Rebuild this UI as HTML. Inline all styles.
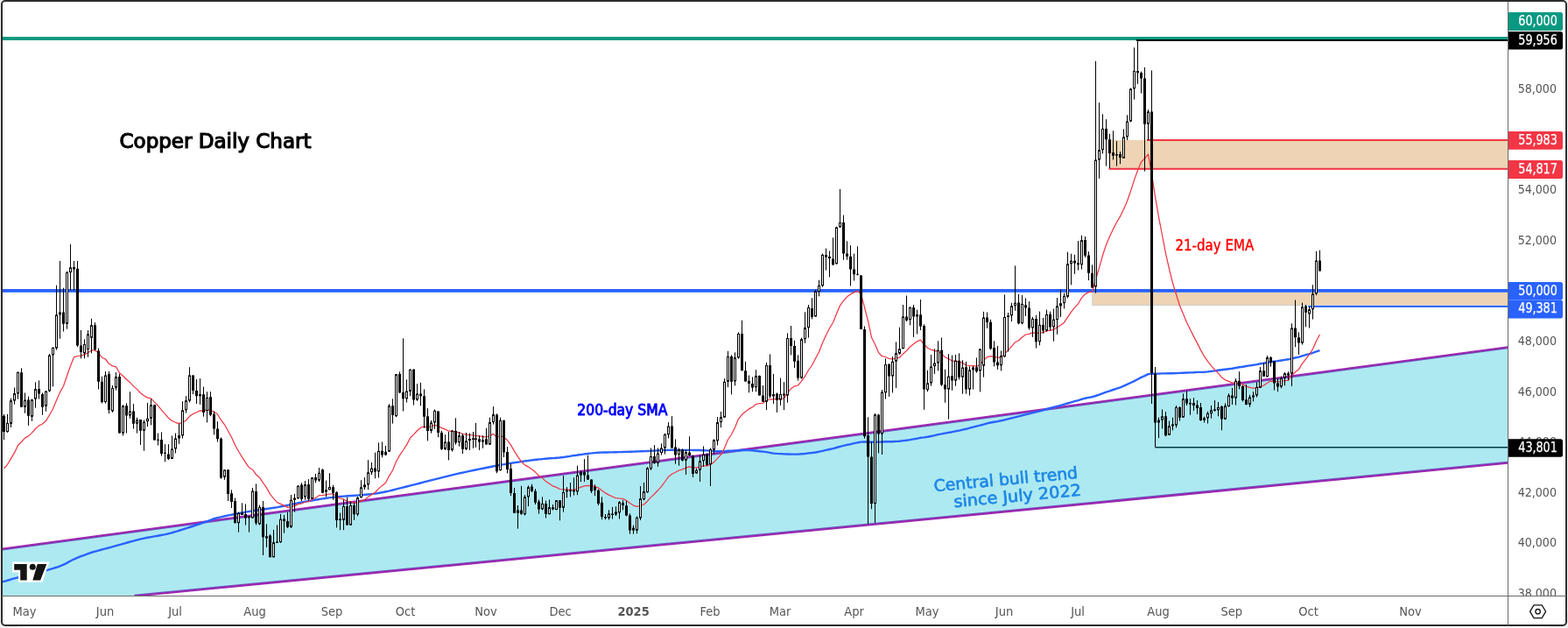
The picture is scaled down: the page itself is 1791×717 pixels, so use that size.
<!DOCTYPE html><html><head><meta charset="utf-8"><title>Copper Daily Chart</title><style>html,body{margin:0;padding:0;background:#efefef;overflow:hidden}svg{display:block}</style></head><body><svg width="1791" height="717" viewBox="0 0 1791 717">
<defs><clipPath id="cp"><rect x="3" y="2" width="1719" height="678"/></clipPath></defs>
<rect x="0" y="0" width="1791" height="717" fill="#efefef"/>
<rect x="20" y="714" width="1750" height="3" fill="#fdfdfd"/>
<rect x="1789" y="20" width="2" height="680" fill="#fbfbfb"/>
<rect x="2" y="1" width="1787" height="713" rx="4" fill="#ffffff" stroke="#2c2c2c" stroke-width="2"/>
<g clip-path="url(#cp)">
<rect x="1267.5" y="160" width="460" height="32.8" fill="#eed4b4"/>
<rect x="1247.6" y="333.8" width="480" height="14.9" fill="#eed4b4"/>
<path d="M1247.6 333.8V348.7H1730" fill="none" stroke="rgba(120,170,230,0.35)" stroke-width="1"/>
<rect x="0" y="42" width="1730" height="4" fill="#089981"/>
<rect x="1298" y="45" width="432" height="2" fill="#000"/>
<rect x="1310" y="159" width="420" height="2" fill="#f23645"/>
<rect x="1266.5" y="191.8" width="463" height="2" fill="#f23645"/>
<rect x="0" y="330" width="1730" height="3.8" fill="#2962ff"/>
<rect x="1494.2" y="349" width="240" height="1.9" fill="#2962ff"/>
<rect x="1319.5" y="510" width="410" height="1.5" fill="#000"/>
<line x1="-10" y1="628.64" x2="1730" y2="395.65" stroke="#9c27b0" stroke-width="3"/>
<line x1="153.5" y1="680.20" x2="1730" y2="527.59" stroke="#9c27b0" stroke-width="3"/>
<polygon points="-10,629.24 1730,396.25 1730,526.99 -10,695.43" fill="rgba(0,188,212,0.32)"/>
<polyline fill="none" stroke="#2962ff" stroke-width="2.4" stroke-linejoin="round" points="2.5,664.4 4.2,663.9 6.5,663.3 9.2,662.5 12.2,661.6 15.4,660.7 18.7,659.8 22.0,658.9 25.1,658.1 28.2,657.3 31.3,656.5 34.6,655.8 37.9,655.0 41.1,654.2 44.3,653.5 47.4,652.7 50.3,651.9 53.1,651.1 55.8,650.4 58.4,649.6 61.0,648.8 63.5,648.0 65.9,647.3 68.2,646.5 70.4,645.6 72.5,644.7 74.4,643.8 76.2,642.9 77.9,641.9 79.6,641.0 81.4,640.0 83.3,639.0 85.4,638.1 87.6,637.1 89.9,636.2 92.3,635.2 94.8,634.3 97.4,633.3 100.0,632.4 102.7,631.4 105.5,630.5 108.4,629.6 111.3,628.8 114.4,628.0 117.5,627.1 120.7,626.3 123.9,625.5 127.3,624.6 130.7,623.7 134.2,622.7 137.9,621.7 141.6,620.6 145.4,619.5 149.3,618.4 153.2,617.3 157.0,616.3 160.8,615.4 164.6,614.6 168.5,613.8 172.5,613.1 176.4,612.4 180.2,611.7 184.0,611.0 187.6,610.4 191.0,609.6 194.2,608.8 197.2,608.0 200.0,607.2 202.8,606.4 205.5,605.5 208.1,604.7 210.8,603.8 213.6,602.9 216.5,602.0 219.5,601.0 222.5,600.0 225.4,599.0 228.4,598.0 231.2,597.0 233.8,596.1 236.2,595.3 238.2,594.6 239.8,594.0 241.2,593.5 242.4,593.0 243.8,592.5 245.4,592.0 247.4,591.5 250.0,590.8 253.2,590.1 257.0,589.2 261.1,588.4 265.5,587.5 270.1,586.6 274.7,585.7 279.2,584.9 283.5,584.1 287.7,583.4 291.9,582.8 296.0,582.2 300.2,581.6 304.4,581.0 308.5,580.4 312.7,579.8 316.9,579.1 321.1,578.3 325.3,577.5 329.5,576.6 333.6,575.8 337.8,574.9 342.0,574.0 346.2,573.2 350.4,572.4 354.6,571.7 358.8,571.0 363.0,570.3 367.1,569.6 371.3,569.0 375.5,568.4 379.7,567.9 383.9,567.4 388.2,567.0 392.5,566.6 396.9,566.3 401.3,566.0 405.6,565.7 409.8,565.4 413.7,565.1 417.4,564.8 420.6,564.5 423.4,564.2 425.9,563.9 428.3,563.6 430.7,563.3 433.4,562.8 436.4,562.2 440.0,561.5 444.2,560.6 448.8,559.5 453.8,558.2 459.0,556.9 464.4,555.5 469.7,554.2 475.1,552.8 480.2,551.5 485.2,550.2 490.2,548.9 495.3,547.6 500.3,546.4 505.3,545.1 510.3,543.8 515.4,542.6 520.4,541.4 525.6,540.2 530.9,539.1 536.4,537.9 541.8,536.8 547.0,535.7 552.0,534.7 556.5,533.8 560.6,533.0 564.1,532.3 567.0,531.7 569.6,531.2 571.9,530.8 574.0,530.4 576.1,530.1 578.3,529.7 580.7,529.3 583.2,528.9 585.7,528.5 588.2,528.1 590.8,527.7 593.3,527.4 595.8,527.0 598.3,526.6 600.8,526.3 603.3,526.0 605.8,525.6 608.3,525.3 610.8,525.0 613.4,524.7 615.9,524.4 618.4,524.2 620.9,523.9 623.4,523.7 625.9,523.5 628.4,523.3 631.0,523.1 633.5,523.0 636.0,522.8 638.5,522.6 641.0,522.3 643.5,522.0 646.0,521.6 648.5,521.2 651.0,520.9 653.6,520.4 656.1,520.0 658.6,519.7 661.1,519.3 663.6,519.0 666.1,518.6 668.6,518.3 671.2,518.0 673.7,517.6 676.2,517.4 678.7,517.1 681.2,516.9 683.7,516.7 686.2,516.6 688.7,516.5 691.2,516.5 693.8,516.5 696.3,516.4 698.8,516.4 701.3,516.3 703.8,516.2 706.3,516.1 708.8,516.1 711.3,516.0 713.9,515.9 716.4,515.9 718.9,515.8 721.4,515.7 723.9,515.6 726.4,515.5 728.9,515.4 731.5,515.3 734.0,515.2 736.5,515.1 739.0,515.0 741.5,514.9 744.0,514.8 746.5,514.6 749.0,514.5 751.5,514.4 754.1,514.2 756.6,514.1 759.1,514.0 761.6,513.9 764.1,513.9 766.7,513.8 769.2,513.8 771.8,513.8 774.3,513.9 776.8,513.9 779.3,513.9 781.7,513.9 784.2,513.9 786.7,513.9 789.3,513.9 791.9,514.0 794.2,514.0 796.4,514.0 798.1,514.0 799.5,514.0 803.5,514.2 807.5,514.4 811.5,514.7 815.5,514.9 819.5,515.2 823.5,515.3 827.5,515.2 831.5,514.8 835.5,514.7 839.5,514.6 843.5,514.2 847.5,514.0 851.5,514.0 855.5,514.1 859.5,514.3 863.5,514.7 867.5,515.2 871.5,515.6 875.5,516.1 879.5,516.9 883.5,517.6 887.5,517.9 891.5,518.1 895.5,518.4 899.5,518.5 903.5,518.6 907.5,518.6 911.5,518.6 915.5,518.3 919.5,518.0 923.5,517.4 927.5,517.0 931.5,516.5 935.5,515.7 939.5,514.8 943.5,513.9 947.5,513.0 951.5,512.1 955.5,511.0 959.5,509.8 963.5,508.9 967.5,507.9 971.5,507.2 975.5,506.2 979.5,505.3 983.5,504.6 987.5,504.5 991.5,504.5 995.5,504.8 999.5,504.6 1003.5,504.6 1007.5,504.5 1011.5,504.3 1015.5,504.3 1019.5,504.2 1023.5,503.9 1027.5,503.7 1031.5,503.1 1035.5,502.7 1039.5,502.1 1043.5,501.4 1047.5,500.7 1051.5,499.8 1055.5,499.4 1059.5,498.8 1063.5,498.0 1067.5,497.1 1071.5,496.1 1075.5,495.4 1079.5,494.6 1083.5,493.9 1087.5,493.2 1091.5,492.3 1095.5,491.6 1099.5,490.6 1103.5,489.8 1107.5,488.7 1111.5,487.7 1115.5,486.7 1119.5,485.7 1123.5,484.6 1127.5,483.4 1131.5,482.5 1135.5,481.8 1139.5,481.1 1143.5,480.3 1147.5,479.3 1151.5,478.3 1155.5,477.3 1159.5,476.3 1163.5,475.4 1167.5,474.3 1171.5,473.3 1175.5,472.4 1179.5,471.4 1183.5,470.4 1187.5,469.3 1191.5,468.3 1195.5,467.1 1199.5,466.0 1203.5,464.9 1207.5,463.8 1211.5,462.8 1215.5,461.7 1219.5,460.5 1223.5,459.3 1227.5,458.1 1231.5,457.1 1235.5,455.9 1239.5,454.7 1243.5,453.9 1247.5,453.2 1251.5,452.0 1255.5,450.6 1259.5,449.1 1263.5,447.6 1267.5,446.4 1271.5,445.0 1275.5,443.6 1279.5,442.3 1283.5,440.7 1287.5,438.9 1291.5,437.0 1295.5,435.1 1299.5,433.0 1303.5,430.9 1307.5,429.1 1311.5,427.1 1315.5,426.8 1319.5,426.7 1323.5,426.6 1327.5,426.4 1331.5,426.4 1335.5,426.3 1339.5,426.2 1343.5,426.1 1347.5,425.9 1351.5,425.7 1355.5,425.5 1359.5,425.4 1363.5,425.3 1367.5,424.9 1371.5,424.9 1375.5,424.7 1379.5,424.4 1383.5,423.9 1387.5,423.4 1391.5,422.8 1395.5,422.2 1399.5,421.7 1403.5,421.2 1407.5,420.7 1411.5,420.0 1415.5,419.3 1419.5,418.7 1423.5,418.0 1427.5,417.4 1431.5,416.8 1435.5,416.1 1439.5,415.3 1443.5,414.7 1447.5,413.9 1451.5,413.2 1455.5,412.6 1459.5,412.1 1463.5,411.5 1467.5,410.9 1471.5,410.3 1475.5,409.4 1479.5,408.5 1483.5,407.6 1487.5,406.4 1491.5,405.2 1495.5,404.1 1499.5,402.8 1503.5,401.4 1507.5,400.1"/>
<polyline fill="none" stroke="#f23645" stroke-width="1.25" stroke-linejoin="round" points="4.5,535.0 8.5,530.3 12.5,523.6 16.5,516.9 20.5,508.5 24.5,504.5 28.5,500.1 32.5,497.9 36.5,494.1 40.5,489.5 44.5,485.9 48.5,484.0 52.5,480.6 56.5,473.7 60.5,466.8 64.5,457.0 68.5,447.9 72.5,440.8 76.5,429.0 80.5,417.7 84.5,407.7 88.5,406.5 92.5,406.1 96.5,404.9 100.5,402.8 104.5,399.9 108.5,399.8 112.5,403.1 116.5,408.2 120.5,410.0 124.5,415.3 128.5,417.8 132.5,418.9 136.5,425.8 140.5,429.2 144.5,433.3 148.5,436.6 152.5,440.9 156.5,444.4 160.5,448.7 164.5,451.7 168.5,454.1 172.5,454.8 176.5,459.2 180.5,463.1 184.5,468.1 188.5,472.6 192.5,477.3 196.5,480.5 200.5,482.3 204.5,483.6 208.5,482.2 212.5,480.0 216.5,475.3 220.5,472.6 224.5,470.8 228.5,468.9 232.5,469.1 236.5,467.7 240.5,468.3 244.5,470.2 248.5,473.0 252.5,479.6 256.5,484.8 260.5,492.0 264.5,499.3 268.5,508.2 272.5,515.3 276.5,521.9 280.5,528.2 284.5,533.8 288.5,536.2 292.5,541.8 296.5,545.2 300.5,551.4 304.5,556.9 308.5,564.1 312.5,569.1 316.5,573.6 320.5,575.3 324.5,577.1 328.5,579.4 332.5,578.6 336.5,577.6 340.5,575.6 344.5,575.0 348.5,573.0 352.5,572.7 356.5,570.2 360.5,568.2 364.5,565.7 368.5,565.4 372.5,564.9 376.5,564.0 380.5,563.9 384.5,566.6 388.5,569.1 392.5,569.9 396.5,572.6 400.5,573.0 404.5,574.3 408.5,573.8 412.5,572.2 416.5,570.5 420.5,567.6 424.5,564.6 428.5,562.2 432.5,557.9 436.5,554.4 440.5,551.3 444.5,543.3 448.5,537.0 452.5,527.0 456.5,519.9 460.5,514.0 464.5,507.9 468.5,500.0 472.5,496.1 476.5,491.8 480.5,488.2 484.5,487.1 488.5,487.5 492.5,487.1 496.5,485.4 500.5,486.2 504.5,488.6 508.5,490.1 512.5,492.2 516.5,492.2 520.5,493.4 524.5,493.8 528.5,495.5 532.5,496.2 536.5,496.6 540.5,497.0 543.5,497.3 547.5,497.9 551.5,498.4 555.5,499.2 559.5,497.6 563.5,495.4 567.5,499.3 571.5,497.5 575.5,499.3 579.5,502.6 583.5,508.1 587.5,515.1 591.5,521.3 595.5,527.2 599.5,530.9 603.5,533.1 607.5,535.7 611.5,539.1 615.5,543.0 619.5,545.9 623.5,549.6 627.5,552.3 631.5,554.9 635.5,556.4 639.5,558.5 643.5,558.8 647.5,559.1 651.5,559.2 655.5,559.4 659.5,557.9 663.5,556.2 667.5,554.9 671.5,554.3 675.5,554.9 679.5,555.3 683.5,557.1 687.5,560.1 691.5,562.9 695.5,565.1 699.5,567.0 703.5,568.6 707.5,569.0 711.5,569.7 715.5,571.4 719.5,574.5 723.5,577.1 727.5,578.4 731.5,577.5 735.5,576.0 739.5,572.2 743.5,567.6 747.5,564.0 751.5,559.8 755.5,555.4 759.5,550.0 763.5,544.3 767.5,541.3 771.5,539.3 775.5,537.0 779.5,535.9 783.5,534.1 787.5,532.9 791.5,533.6 795.5,533.9 799.5,533.2 803.5,531.9 807.5,531.8 811.5,530.1 815.5,527.6 819.5,523.4 823.5,519.1 827.5,511.6 831.5,502.0 835.5,496.0 839.5,488.0 843.5,478.3 847.5,473.3 851.5,469.9 855.5,466.9 859.5,464.7 863.5,461.5 867.5,460.6 871.5,460.4 875.5,456.5 879.5,456.1 883.5,455.6 887.5,455.7 891.5,455.1 895.5,454.8 899.5,448.6 903.5,443.7 907.5,440.9 911.5,440.0 915.5,435.2 919.5,429.7 923.5,422.5 927.5,417.0 931.5,409.3 935.5,401.7 939.5,391.6 943.5,382.7 947.5,374.8 951.5,368.2 955.5,358.3 959.5,348.8 963.5,343.4 967.5,338.8 971.5,335.9 975.5,333.9 979.5,332.1 983.5,336.0 987.5,350.8 991.5,366.3 995.5,385.3 999.5,393.3 1003.5,402.6 1007.5,406.7 1011.5,407.5 1015.5,409.5 1019.5,409.8 1023.5,409.2 1027.5,408.2 1031.5,403.9 1035.5,400.5 1039.5,396.0 1043.5,392.8 1047.5,389.8 1051.5,388.2 1055.5,393.3 1059.5,397.3 1063.5,399.2 1067.5,400.6 1071.5,400.6 1075.5,404.1 1079.5,407.8 1083.5,409.8 1087.5,412.0 1091.5,412.0 1095.5,413.7 1099.5,414.2 1103.5,417.0 1107.5,417.5 1111.5,417.6 1115.5,418.2 1119.5,416.4 1123.5,411.5 1127.5,407.6 1131.5,406.7 1135.5,407.3 1139.5,408.2 1143.5,408.1 1147.5,403.9 1151.5,399.9 1155.5,395.3 1159.5,390.8 1163.5,388.8 1167.5,385.0 1171.5,382.0 1175.5,381.3 1179.5,379.7 1183.5,380.7 1187.5,379.8 1191.5,379.6 1195.5,377.7 1199.5,377.3 1203.5,376.1 1207.5,373.7 1211.5,371.2 1215.5,368.2 1219.5,362.1 1223.5,356.2 1227.5,351.2 1231.5,346.8 1235.5,340.1 1239.5,335.8 1243.5,333.6 1247.5,333.1 1251.5,319.4 1255.5,305.9 1259.5,291.5 1263.5,279.4 1267.5,269.9 1271.5,261.6 1275.5,253.8 1279.5,247.1 1283.5,238.8 1287.5,229.7 1291.5,218.1 1295.5,205.6 1299.5,194.5 1303.5,184.9 1307.5,181.0 1311.5,176.1 1315.5,198.8 1319.5,224.6 1323.5,247.8 1327.5,268.5 1331.5,289.3 1335.5,307.2 1339.5,323.3 1343.5,336.2 1347.5,349.0 1351.5,358.6 1355.5,367.9 1359.5,376.3 1363.5,384.1 1367.5,391.6 1371.5,399.6 1375.5,406.7 1379.5,412.6 1383.5,417.7 1387.5,422.2 1391.5,426.1 1395.5,430.9 1399.5,433.8 1403.5,435.4 1407.5,437.1 1411.5,436.9 1415.5,437.3 1419.5,439.1 1423.5,441.1 1427.5,442.3 1431.5,443.1 1435.5,443.0 1439.5,441.2 1443.5,440.1 1447.5,437.2 1451.5,435.1 1455.5,435.3 1459.5,435.9 1463.5,435.5 1467.5,434.7 1471.5,434.1 1475.5,428.7 1479.5,424.7 1483.5,421.7 1487.5,415.2 1491.5,409.9 1495.5,404.8 1499.5,398.5 1503.5,389.3 1507.5,382.0"/>
<path d="M4.5 472.8V502.1M8.5 472.8V494.0M12.5 454.6V488.0M16.5 442.5V461.7M20.5 424.3V455.6M24.5 420.3V464.7M28.5 448.5V471.8M32.5 452.6V485.9M36.5 455.6V480.9M40.5 436.4V465.7M44.5 434.4V455.6M48.5 448.5V473.8M52.5 446.5V469.7M56.5 404.1V447.5M60.5 396.2V441.3M64.5 325.7V399.5M68.5 297.9V386.7M72.5 328.7V378.5M76.5 309.6V375.6M80.5 278.8V331.6M84.5 297.9V331.6M88.5 297.9V396.0M92.5 377.0V409.3M96.5 387.3V409.3M100.5 377.0V407.8M104.5 363.8V403.4M108.5 368.2V400.5M112.5 397.6V444.5M116.5 429.8V460.6M120.5 424.0V460.6M124.5 424.0V472.3M128.5 440.0V470.9M132.5 425.1V445.5M136.5 426.8V494.6M140.5 462.3V497.4M144.5 460.3V494.6M148.5 447.2V477.8M152.5 461.1V489.6M156.5 476.7V494.6M160.5 479.0V508.0M164.5 479.5V514.7M168.5 459.9V487.0M172.5 455.6V485.4M176.5 462.3V502.5M180.5 494.6V508.5M184.5 493.4V520.6M188.5 507.2V527.3M192.5 507.2V525.2M196.5 497.4V523.9M200.5 494.6V517.5M204.5 483.7V506.8M208.5 458.2V500.5M212.5 452.2V471.6M216.5 419.2V459.4M220.5 428.4V450.2M224.5 433.1V461.1M228.5 432.1V461.9M232.5 441.5V475.7M236.5 447.2V482.4M240.5 447.2V475.3M244.5 469.5V496.3M248.5 481.2V504.6M252.5 499.5V546.7M256.5 536.3V547.8M260.5 536.3V572.0M264.5 559.3V580.0M268.5 568.5V597.2M272.5 584.6V607.6M276.5 574.3V588.0M280.5 575.4V599.5M284.5 589.2V607.6M288.5 557.0V591.5M292.5 552.4V599.5M296.5 576.6V599.5M300.5 572.0V634.0M304.5 598.4V624.8M308.5 609.9V636.3M312.5 605.0V636.3M316.5 599.5V619.8M320.5 586.9V619.8M324.5 588.0V608.7M328.5 584.6V603.0M332.5 565.0V603.0M336.5 563.9V584.6M340.5 554.0V569.7M344.5 551.3V572.0M348.5 549.0V570.8M352.5 547.1V571.5M356.5 545.1V569.7M360.5 540.9V551.3M364.5 534.0V550.1M368.5 535.2V563.2M372.5 548.5V567.4M376.5 540.2V559.3M380.5 553.6V570.8M384.5 561.0V602.4M388.5 585.5V605.2M392.5 570.4V605.2M396.5 567.6V599.6M400.5 572.3V599.6M404.5 574.2V593.9M408.5 567.0V589.2M412.5 548.2V568.5M416.5 545.0V559.1M420.5 525.2V559.1M424.5 528.0V542.1M428.5 516.7V546.3M432.5 505.4V545.5M436.5 504.5V522.4M440.5 509.0V520.0M444.5 461.2V516.0M448.5 455.3V483.6M452.5 427.1V476.2M456.5 424.4V448.6M460.5 386.3V469.5M464.5 433.3V459.5M468.5 421.4V452.2M472.5 421.4V462.6M476.5 438.2V457.8M480.5 436.9V463.3M484.5 444.4V488.8M488.5 466.2V503.4M492.5 480.0V494.6M496.5 467.4V489.8M500.5 469.5V499.2M504.5 491.9V513.9M508.5 496.1V513.9M512.5 493.0V525.4M516.5 490.9V515.6M520.5 477.3V507.6M524.5 493.0V509.7M528.5 495.1V518.1M532.5 494.0V513.9M536.5 494.6V513.9M540.5 493.0V511.8M543.5 482.9V510.8M547.5 497.2V513.9M551.5 497.2V511.8M555.5 488.8V507.6M559.5 476.7V508.0M563.5 464.1V484.6M567.5 472.3V540.3M571.5 476.6V537.5M575.5 479.8V522.0M579.5 510.1V540.3M583.5 529.5V566.2M587.5 557.0V585.7M591.5 577.0V603.6M595.5 554.8V587.8M599.5 565.2V588.5M603.5 554.4V578.1M607.5 552.6V561.9M611.5 558.2V576.0M615.5 570.5V586.7M619.5 567.3V582.4M623.5 571.6V591.5M627.5 570.5V587.2M631.5 576.0V582.4M635.5 571.2V582.4M639.5 571.2V594.3M643.5 543.1V584.6M647.5 556.1V568.4M651.5 551.1V567.3M655.5 545.3V565.6M659.5 531.7V565.2M663.5 537.1V550.0M667.5 524.1V550.0M671.5 519.8V547.9M675.5 547.4V563.0M679.5 553.3V566.2M683.5 558.7V577.0M687.5 567.3V593.2M691.5 587.0V593.2M695.5 582.3V593.5M699.5 578.9V592.5M703.5 578.3V589.0M707.5 572.2V592.5M711.5 571.2V582.3M715.5 572.2V589.4M719.5 586.4V609.7M723.5 599.6V609.7M727.5 589.4V609.3M731.5 555.0V593.9M735.5 551.0V571.2M739.5 533.2V562.7M743.5 511.5V536.8M747.5 508.1V529.7M751.5 511.5V532.8M755.5 506.4V519.6M759.5 494.7V518.6M763.5 482.1V500.4M767.5 475.1V511.5M771.5 501.4V529.7M775.5 511.5V531.7M779.5 512.5V526.7M783.5 513.5V541.9M787.5 498.3V520.6M791.5 519.6V544.9M795.5 534.8V540.9M799.5 519.6V550.0M803.5 509.5V532.8M807.5 517.6V531.7M811.5 511.5V555.0M815.5 501.4V518.6M819.5 476.1V508.5M823.5 470.0V488.2M827.5 432.2V476.6M831.5 400.8V442.1M835.5 405.4V450.4M839.5 402.3V440.4M843.5 379.3V409.6M847.5 365.7V423.2M851.5 412.8V435.8M855.5 428.5V448.3M859.5 430.5V447.3M863.5 422.2V447.3M867.5 428.5V451.5M871.5 440.0V458.8M875.5 413.8V468.2M879.5 404.4V454.6M883.5 427.0V460.9M887.5 448.3V470.9M891.5 431.6V463.0M895.5 436.2V468.2M899.5 380.3V459.8M903.5 372.0V405.4M907.5 388.7V420.1M911.5 405.4V434.7M915.5 385.6V432.6M919.5 356.3V391.8M923.5 348.0V385.6M927.5 340.2V364.4M931.5 331.1V361.5M935.5 319.7V338.3M939.5 289.6V327.6M943.5 283.6V308.6M947.5 286.5V316.4M951.5 271.3V303.1M955.5 258.7V301.4M959.5 215.9V259.9M963.5 245.6V296.7M967.5 275.3V296.7M971.5 280.1V326.4M975.5 289.6V320.5M979.5 281.3V314.5M983.5 314.0V375.9M987.5 372.5V500.7M991.5 476.3V598.3M995.5 504.4V581.2M999.5 472.0V597.0M1003.5 472.7V517.3M1007.5 445.1V519.0M1011.5 409.4V455.6M1015.5 415.0V452.9M1019.5 407.1V448.4M1023.5 390.4V442.9M1027.5 373.7V404.9M1031.5 348.0V398.2M1035.5 337.5V367.0M1039.5 350.2V371.4M1043.5 348.0V384.8M1047.5 353.6V381.5M1051.5 342.0V377.0M1055.5 370.3V467.8M1059.5 422.8V447.3M1063.5 405.0V440.7M1067.5 398.3V426.8M1071.5 389.3V423.4M1075.5 385.5V440.7M1079.5 421.7V459.7M1083.5 404.2V478.7M1087.5 405.6V445.8M1091.5 405.0V440.7M1095.5 403.3V433.5M1099.5 411.2V449.7M1103.5 412.8V449.7M1107.5 418.3V451.6M1111.5 417.9V444.6M1115.5 408.4V425.7M1119.5 398.3V447.4M1123.5 355.8V430.7M1127.5 356.5V374.8M1131.5 364.8V399.4M1135.5 389.3V418.4M1139.5 394.9V421.8M1143.5 400.5V423.5M1147.5 336.4V407.9M1151.5 357.0V401.6M1155.5 345.8V367.0M1159.5 303.4V354.7M1163.5 335.8V370.4M1167.5 336.9V370.4M1171.5 340.4V360.9M1175.5 344.1V376.6M1179.5 361.9V384.9M1183.5 359.8V397.5M1187.5 355.6V394.4M1191.5 363.0V380.8M1195.5 353.6V378.7M1199.5 355.6V377.6M1203.5 352.5V389.7M1207.5 340.0V381.8M1211.5 330.5V361.9M1215.5 334.7V352.5M1219.5 287.7V340.4M1223.5 289.7V325.3M1227.5 290.8V312.8M1231.5 275.1V308.6M1235.5 268.8V307.5M1239.5 269.9V293.9M1243.5 287.2V320.1M1247.5 302.3V328.5M1251.5 69.7V334.7M1255.5 117.2V203.9M1259.5 130.3V175.4M1263.5 136.2V189.6M1267.5 152.8V192.0M1271.5 149.3V182.5M1275.5 161.1V189.6M1279.5 173.0V187.3M1283.5 147.4V180.6M1287.5 131.4V160.0M1291.5 100.6V139.3M1295.5 54.3V113.6M1299.5 45.9V95.8M1303.5 81.6V106.5M1307.5 76.8V195.6M1311.5 125.0V160.0M1315.5 80.4V461.0M1319.5 419.0V510.5M1323.5 476.7V500.1M1327.5 467.5V489.4M1331.5 470.2V498.2M1335.5 480.6V496.8M1339.5 476.7V491.3M1343.5 463.0V488.4M1347.5 464.0V480.6M1351.5 449.3V476.7M1355.5 446.4V463.0M1359.5 455.2V473.8M1363.5 454.2V468.9M1367.5 457.1V472.8M1371.5 460.0V480.6M1375.5 475.7V482.5M1379.5 469.8V483.5M1383.5 463.0V477.7M1387.5 457.1V469.8M1391.5 459.1V475.3M1395.5 463.0V491.3M1399.5 460.5V479.3M1403.5 449.3V464.7M1407.5 443.0V462.0M1411.5 432.1V462.6M1415.5 424.2V444.4M1419.5 440.2V458.5M1423.5 439.1V462.3M1427.5 450.7V464.7M1431.5 447.2V458.4M1435.5 436.3V453.5M1439.5 419.0V442.8M1443.5 414.0V429.8M1447.5 406.1V430.5M1451.5 407.0V418.6M1455.5 412.1V445.5M1459.5 431.9V447.2M1463.5 429.8V443.3M1467.5 424.9V440.2M1471.5 424.2V434.4M1475.5 369.3V440.9M1479.5 342.5V396.3M1483.5 379.3V404.9M1487.5 345.6V393.5M1491.5 348.0V373.3M1495.5 350.4V374.5M1499.5 325.2V364.6M1503.5 286.8V337.1M1507.5 285.7V309.4" stroke="#000" stroke-width="1" fill="none"/>
<path d="M3.0 474.8h3V493.0h-3ZM23.0 425.3h3V464.7h-3ZM31.0 456.6h3V474.8h-3ZM43.0 444.1h3V449.5h-3ZM47.0 450.0h3V464.7h-3ZM71.0 356.5h3V369.7h-3ZM83.0 305.0h3V307.5h-3ZM87.0 306.7h3V394.6h-3ZM91.0 394.6h3V402.0h-3ZM107.0 371.2h3V399.0h-3ZM111.0 400.5h3V435.7h-3ZM115.0 435.7h3V459.1h-3ZM123.0 426.9h3V468.0h-3ZM135.0 430.1h3V494.6h-3ZM143.0 463.3h3V474.5h-3ZM151.0 469.5h3V483.7h-3ZM159.0 479.0h3V491.7h-3ZM175.0 462.3h3V502.5h-3ZM179.0 501.8h3V502.8h-3ZM183.0 502.1h3V518.0h-3ZM187.0 516.7h3V517.7h-3ZM191.0 518.5h3V523.9h-3ZM219.0 428.4h3V446.0h-3ZM223.0 446.0h3V452.2h-3ZM231.0 450.2h3V471.1h-3ZM239.0 453.2h3V473.7h-3ZM243.0 472.8h3V489.6h-3ZM247.0 489.6h3V501.3h-3ZM251.0 500.7h3V545.5h-3ZM259.0 536.3h3V563.9h-3ZM263.0 563.2h3V573.1h-3ZM267.0 572.0h3V597.2h-3ZM275.0 585.3h3V588.0h-3ZM279.0 586.9h3V591.5h-3ZM291.0 560.9h3V597.2h-3ZM299.0 578.9h3V613.3h-3ZM307.0 611.5h3V636.3h-3ZM323.0 592.6h3V594.9h-3ZM327.0 594.9h3V601.8h-3ZM343.0 553.6h3V569.7h-3ZM351.0 553.1h3V569.7h-3ZM359.0 545.1h3V548.5h-3ZM367.0 536.3h3V562.8h-3ZM379.0 556.3h3V562.8h-3ZM383.0 561.9h3V593.9h-3ZM387.0 592.5h3V594.0h-3ZM395.0 577.9h3V599.6h-3ZM403.0 577.0h3V587.3h-3ZM427.0 534.6h3V538.4h-3ZM435.0 514.8h3V519.5h-3ZM439.0 515.8h3V519.5h-3ZM447.0 463.3h3V474.1h-3ZM455.0 427.1h3V448.6h-3ZM459.0 448.0h3V455.3h-3ZM471.0 421.8h3V456.4h-3ZM479.0 449.5h3V452.2h-3ZM483.0 452.2h3V475.8h-3ZM487.0 475.2h3V491.9h-3ZM499.0 469.5h3V494.0h-3ZM503.0 494.0h3V512.8h-3ZM511.0 504.5h3V513.9h-3ZM519.0 491.9h3V505.5h-3ZM527.0 497.2h3V512.8h-3ZM546.0 501.3h3V504.5h-3ZM554.0 501.3h3V507.6h-3ZM566.0 473.4h3V538.2h-3ZM574.0 479.8h3V516.6h-3ZM578.0 516.1h3V536.0h-3ZM582.0 534.9h3V563.0h-3ZM586.0 563.0h3V585.7h-3ZM594.0 582.4h3V586.7h-3ZM606.0 555.4h3V560.8h-3ZM610.0 560.8h3V573.8h-3ZM614.0 572.7h3V581.4h-3ZM622.0 574.9h3V586.7h-3ZM630.0 579.2h3V581.4h-3ZM638.0 571.2h3V579.8h-3ZM646.0 559.8h3V561.3h-3ZM650.0 559.8h3V561.0h-3ZM654.0 559.8h3V561.3h-3ZM666.0 539.2h3V542.5h-3ZM670.0 542.5h3V547.4h-3ZM674.0 547.4h3V560.8h-3ZM678.0 556.0h3V559.8h-3ZM682.0 559.8h3V574.9h-3ZM686.0 573.8h3V590.0h-3ZM690.0 590.0h3V591.5h-3ZM710.0 574.3h3V576.9h-3ZM714.0 577.3h3V588.4h-3ZM718.0 588.4h3V605.6h-3ZM746.0 521.0h3V528.7h-3ZM766.0 486.6h3V511.5h-3ZM770.0 510.5h3V519.6h-3ZM778.0 513.5h3V525.7h-3ZM786.0 516.6h3V520.2h-3ZM790.0 520.2h3V540.9h-3ZM806.0 518.6h3V530.7h-3ZM834.0 406.9h3V435.8h-3ZM846.0 381.0h3V423.2h-3ZM850.0 423.2h3V435.4h-3ZM854.0 434.7h3V437.9h-3ZM858.0 437.9h3V442.5h-3ZM866.0 429.1h3V451.5h-3ZM870.0 451.5h3V458.8h-3ZM878.0 417.0h3V452.5h-3ZM886.0 449.4h3V456.7h-3ZM894.0 449.4h3V451.5h-3ZM902.0 386.0h3V395.0h-3ZM906.0 395.0h3V412.8h-3ZM910.0 411.7h3V431.6h-3ZM926.0 352.0h3V362.0h-3ZM942.0 291.2h3V293.6h-3ZM946.0 293.1h3V295.0h-3ZM950.0 295.5h3V302.2h-3ZM962.0 253.9h3V289.6h-3ZM966.0 289.6h3V292.7h-3ZM970.0 292.7h3V307.4h-3ZM974.0 307.4h3V313.3h-3ZM978.0 312.8h3V313.8h-3ZM982.0 314.5h3V375.9h-3ZM986.0 375.9h3V498.3h-3ZM990.0 497.0h3V521.5h-3ZM994.0 521.5h3V575.1h-3ZM1002.0 473.4h3V495.4h-3ZM1014.0 416.0h3V429.5h-3ZM1034.0 361.4h3V365.8h-3ZM1042.0 350.9h3V361.4h-3ZM1050.0 359.2h3V372.5h-3ZM1054.0 371.9h3V444.6h-3ZM1074.0 399.8h3V439.6h-3ZM1078.0 439.3h3V444.6h-3ZM1086.0 429.2h3V434.6h-3ZM1094.0 411.7h3V430.7h-3ZM1102.0 419.2h3V444.6h-3ZM1114.0 419.2h3V424.0h-3ZM1126.0 362.5h3V368.1h-3ZM1130.0 367.7h3V398.3h-3ZM1134.0 397.1h3V413.4h-3ZM1138.0 413.4h3V417.3h-3ZM1162.0 345.4h3V369.2h-3ZM1170.0 348.3h3V351.5h-3ZM1174.0 351.5h3V374.5h-3ZM1182.0 364.0h3V390.2h-3ZM1190.0 370.9h3V377.6h-3ZM1198.0 358.8h3V373.4h-3ZM1226.0 297.7h3V300.6h-3ZM1230.0 300.2h3V302.3h-3ZM1238.0 274.1h3V291.8h-3ZM1242.0 291.4h3V311.7h-3ZM1246.0 311.7h3V328.5h-3ZM1262.0 146.9h3V159.2h-3ZM1266.0 159.2h3V174.9h-3ZM1270.0 174.2h3V177.8h-3ZM1278.0 175.9h3V180.1h-3ZM1298.0 80.9h3V83.2h-3ZM1302.0 83.2h3V89.4h-3ZM1306.0 89.4h3V141.7h-3ZM1314.0 127.4h3V425.9h-3ZM1318.0 426.5h3V482.5h-3ZM1330.0 475.3h3V497.2h-3ZM1346.0 465.0h3V476.7h-3ZM1354.0 455.2h3V460.5h-3ZM1362.0 460.0h3V463.0h-3ZM1366.0 462.4h3V465.9h-3ZM1370.0 465.0h3V480.0h-3ZM1394.0 464.0h3V478.6h-3ZM1406.0 451.4h3V454.5h-3ZM1414.0 434.7h3V440.9h-3ZM1418.0 440.9h3V456.9h-3ZM1422.0 456.3h3V461.9h-3ZM1442.0 423.2h3V429.8h-3ZM1450.0 407.9h3V413.4h-3ZM1454.0 412.6h3V437.5h-3ZM1458.0 437.5h3V441.6h-3ZM1470.0 426.3h3V428.4h-3ZM1478.0 374.5h3V385.2h-3ZM1482.0 385.2h3V391.6h-3ZM1490.0 349.6h3V356.8h-3ZM1506.0 297.5h3V309.4h-3Z" fill="#000"/>
<g fill="#fff" stroke="#000" stroke-width="1"><rect x="7.5" y="483.4" width="2" height="9.1"/><rect x="11.5" y="457.7" width="2" height="25.7"/><rect x="15.5" y="449.6" width="2" height="7.5"/><rect x="19.5" y="425.4" width="2" height="23.6"/><rect x="27.5" y="457.1" width="2" height="7.1"/><rect x="35.5" y="456.7" width="2" height="18.6"/><rect x="39.5" y="444.6" width="2" height="10.5"/><rect x="51.5" y="447.0" width="2" height="16.2"/><rect x="55.5" y="406.0" width="2" height="40.0"/><rect x="59.5" y="397.5" width="2" height="7.4"/><rect x="63.5" y="359.9" width="2" height="37.2"/><rect x="67.5" y="357.0" width="2" height="1.9"/><rect x="75.5" y="311.5" width="2" height="57.7"/><rect x="79.5" y="305.7" width="2" height="4.8"/><rect x="95.5" y="393.5" width="2" height="9.4"/><rect x="99.5" y="381.9" width="2" height="16.6"/><rect x="103.5" y="371.7" width="2" height="13.6"/><rect x="119.5" y="428.9" width="2" height="29.7"/><rect x="127.5" y="443.5" width="2" height="25.4"/><rect x="131.5" y="430.6" width="2" height="11.6"/><rect x="139.5" y="463.8" width="2" height="30.3"/><rect x="147.5" y="470.0" width="2" height="4.0"/><rect x="155.5" y="480.0" width="2" height="3.2"/><rect x="163.5" y="482.2" width="2" height="9.0"/><rect x="167.5" y="478.3" width="2" height="2.4"/><rect x="171.5" y="462.8" width="2" height="14.5"/><rect x="195.5" y="513.0" width="2" height="10.4"/><rect x="199.5" y="501.0" width="2" height="11.0"/><rect x="203.5" y="497.6" width="2" height="2.4"/><rect x="207.5" y="468.8" width="2" height="28.1"/><rect x="211.5" y="457.7" width="2" height="10.1"/><rect x="215.5" y="428.9" width="2" height="28.3"/><rect x="227.5" y="450.7" width="2" height="1.0"/><rect x="235.5" y="454.4" width="2" height="14.1"/><rect x="255.5" y="536.8" width="2" height="7.5"/><rect x="271.5" y="586.2" width="2" height="10.5"/><rect x="283.5" y="590.3" width="2" height="0.5"/><rect x="287.5" y="561.0" width="2" height="30.0"/><rect x="295.5" y="579.4" width="2" height="18.5"/><rect x="303.5" y="612.7" width="2" height="1.3"/><rect x="311.5" y="619.6" width="2" height="16.2"/><rect x="315.5" y="619.0" width="2" height="0.5"/><rect x="319.5" y="593.1" width="2" height="25.5"/><rect x="331.5" y="571.3" width="2" height="30.0"/><rect x="335.5" y="569.0" width="2" height="1.3"/><rect x="339.5" y="555.2" width="2" height="13.5"/><rect x="347.5" y="553.6" width="2" height="13.3"/><rect x="355.5" y="545.6" width="2" height="23.6"/><rect x="363.5" y="540.3" width="2" height="7.7"/><rect x="371.5" y="559.8" width="2" height="1.3"/><rect x="375.5" y="556.4" width="2" height="2.4"/><rect x="391.5" y="578.4" width="2" height="15.0"/><rect x="399.5" y="577.5" width="2" height="21.6"/><rect x="407.5" y="568.6" width="2" height="18.2"/><rect x="411.5" y="556.8" width="2" height="10.8"/><rect x="415.5" y="553.9" width="2" height="1.9"/><rect x="419.5" y="539.8" width="2" height="13.1"/><rect x="423.5" y="535.1" width="2" height="3.7"/><rect x="431.5" y="515.3" width="2" height="22.6"/><rect x="443.5" y="463.8" width="2" height="51.3"/><rect x="451.5" y="427.6" width="2" height="47.1"/><rect x="463.5" y="447.0" width="2" height="7.8"/><rect x="467.5" y="422.3" width="2" height="24.1"/><rect x="475.5" y="450.0" width="2" height="5.9"/><rect x="491.5" y="483.0" width="2" height="8.4"/><rect x="495.5" y="469.4" width="2" height="12.6"/><rect x="507.5" y="505.0" width="2" height="7.3"/><rect x="515.5" y="492.4" width="2" height="21.0"/><rect x="523.5" y="497.7" width="2" height="6.9"/><rect x="531.5" y="503.9" width="2" height="8.4"/><rect x="535.5" y="501.4" width="2" height="1.1"/><rect x="539.5" y="500.9" width="2" height="0.5"/><rect x="542.5" y="500.9" width="2" height="0.5"/><rect x="550.5" y="502.9" width="2" height="1.1"/><rect x="558.5" y="482.6" width="2" height="24.5"/><rect x="562.5" y="473.6" width="2" height="8.0"/><rect x="570.5" y="480.3" width="2" height="56.3"/><rect x="590.5" y="582.9" width="2" height="2.3"/><rect x="598.5" y="567.8" width="2" height="18.9"/><rect x="602.5" y="556.6" width="2" height="10.2"/><rect x="618.5" y="575.4" width="2" height="5.5"/><rect x="626.5" y="579.7" width="2" height="7.0"/><rect x="634.5" y="571.7" width="2" height="9.8"/><rect x="642.5" y="562.4" width="2" height="16.9"/><rect x="658.5" y="543.0" width="2" height="17.8"/><rect x="662.5" y="539.7" width="2" height="2.3"/><rect x="694.5" y="586.9" width="2" height="4.1"/><rect x="698.5" y="587.0" width="2" height="0.5"/><rect x="702.5" y="584.9" width="2" height="2.0"/><rect x="706.5" y="573.7" width="2" height="11.2"/><rect x="722.5" y="603.1" width="2" height="2.0"/><rect x="726.5" y="591.5" width="2" height="13.6"/><rect x="730.5" y="569.7" width="2" height="21.3"/><rect x="734.5" y="561.6" width="2" height="8.1"/><rect x="738.5" y="534.9" width="2" height="26.7"/><rect x="742.5" y="521.5" width="2" height="13.2"/><rect x="750.5" y="518.1" width="2" height="10.1"/><rect x="754.5" y="512.0" width="2" height="4.5"/><rect x="758.5" y="496.4" width="2" height="14.6"/><rect x="762.5" y="487.1" width="2" height="8.7"/><rect x="774.5" y="514.0" width="2" height="4.5"/><rect x="782.5" y="516.7" width="2" height="8.5"/><rect x="794.5" y="537.3" width="2" height="2.6"/><rect x="798.5" y="526.8" width="2" height="9.5"/><rect x="802.5" y="519.5" width="2" height="6.3"/><rect x="810.5" y="513.4" width="2" height="16.4"/><rect x="814.5" y="502.9" width="2" height="10.1"/><rect x="818.5" y="482.6" width="2" height="20.3"/><rect x="822.5" y="476.6" width="2" height="5.0"/><rect x="826.5" y="436.3" width="2" height="39.8"/><rect x="830.5" y="407.4" width="2" height="27.9"/><rect x="838.5" y="408.7" width="2" height="26.2"/><rect x="842.5" y="381.5" width="2" height="26.6"/><rect x="862.5" y="429.6" width="2" height="12.0"/><rect x="874.5" y="417.5" width="2" height="40.8"/><rect x="882.5" y="450.5" width="2" height="1.5"/><rect x="890.5" y="450.5" width="2" height="5.7"/><rect x="898.5" y="386.5" width="2" height="64.5"/><rect x="914.5" y="387.7" width="2" height="43.4"/><rect x="918.5" y="374.6" width="2" height="12.1"/><rect x="922.5" y="351.5" width="2" height="22.1"/><rect x="930.5" y="332.8" width="2" height="28.2"/><rect x="934.5" y="326.4" width="2" height="6.1"/><rect x="938.5" y="291.3" width="2" height="34.6"/><rect x="954.5" y="259.9" width="2" height="41.0"/><rect x="958.5" y="254.4" width="2" height="4.5"/><rect x="998.5" y="473.9" width="2" height="100.7"/><rect x="1006.5" y="448.1" width="2" height="46.8"/><rect x="1010.5" y="416.5" width="2" height="31.4"/><rect x="1018.5" y="413.2" width="2" height="15.8"/><rect x="1022.5" y="403.6" width="2" height="8.6"/><rect x="1026.5" y="398.7" width="2" height="4.6"/><rect x="1030.5" y="361.9" width="2" height="35.8"/><rect x="1038.5" y="351.4" width="2" height="13.3"/><rect x="1046.5" y="359.7" width="2" height="1.2"/><rect x="1058.5" y="437.8" width="2" height="6.8"/><rect x="1062.5" y="418.9" width="2" height="18.0"/><rect x="1066.5" y="415.0" width="2" height="2.6"/><rect x="1070.5" y="400.3" width="2" height="13.7"/><rect x="1082.5" y="430.1" width="2" height="14.0"/><rect x="1090.5" y="412.2" width="2" height="21.9"/><rect x="1098.5" y="420.0" width="2" height="10.2"/><rect x="1106.5" y="422.8" width="2" height="21.3"/><rect x="1110.5" y="420.0" width="2" height="1.8"/><rect x="1118.5" y="398.8" width="2" height="24.1"/><rect x="1122.5" y="363.0" width="2" height="54.2"/><rect x="1142.5" y="406.6" width="2" height="10.2"/><rect x="1146.5" y="362.4" width="2" height="44.3"/><rect x="1150.5" y="360.8" width="2" height="0.6"/><rect x="1154.5" y="349.7" width="2" height="10.1"/><rect x="1158.5" y="346.3" width="2" height="2.4"/><rect x="1166.5" y="347.4" width="2" height="21.3"/><rect x="1178.5" y="364.5" width="2" height="9.5"/><rect x="1186.5" y="371.4" width="2" height="18.3"/><rect x="1194.5" y="359.3" width="2" height="17.8"/><rect x="1202.5" y="365.1" width="2" height="7.8"/><rect x="1206.5" y="349.9" width="2" height="14.7"/><rect x="1210.5" y="346.7" width="2" height="2.2"/><rect x="1214.5" y="338.4" width="2" height="7.3"/><rect x="1218.5" y="301.8" width="2" height="36.6"/><rect x="1222.5" y="298.2" width="2" height="2.6"/><rect x="1234.5" y="274.6" width="2" height="27.2"/><rect x="1250.5" y="183.0" width="2" height="143.9"/><rect x="1254.5" y="171.6" width="2" height="10.4"/><rect x="1258.5" y="147.4" width="2" height="23.2"/><rect x="1274.5" y="176.6" width="2" height="0.5"/><rect x="1282.5" y="156.9" width="2" height="23.2"/><rect x="1286.5" y="139.1" width="2" height="16.8"/><rect x="1290.5" y="101.8" width="2" height="36.3"/><rect x="1294.5" y="81.4" width="2" height="19.4"/><rect x="1310.5" y="127.9" width="2" height="13.3"/><rect x="1322.5" y="480.1" width="2" height="1.9"/><rect x="1326.5" y="475.8" width="2" height="3.3"/><rect x="1334.5" y="486.9" width="2" height="9.4"/><rect x="1338.5" y="485.0" width="2" height="0.9"/><rect x="1342.5" y="465.5" width="2" height="19.5"/><rect x="1350.5" y="455.7" width="2" height="20.5"/><rect x="1358.5" y="460.5" width="2" height="0.5"/><rect x="1374.5" y="477.8" width="2" height="1.3"/><rect x="1378.5" y="472.3" width="2" height="4.5"/><rect x="1382.5" y="468.8" width="2" height="2.9"/><rect x="1386.5" y="467.9" width="2" height="0.5"/><rect x="1390.5" y="465.5" width="2" height="2.3"/><rect x="1398.5" y="463.8" width="2" height="14.3"/><rect x="1402.5" y="451.9" width="2" height="11.6"/><rect x="1410.5" y="435.2" width="2" height="18.8"/><rect x="1426.5" y="454.0" width="2" height="7.4"/><rect x="1430.5" y="451.9" width="2" height="1.1"/><rect x="1434.5" y="442.4" width="2" height="8.5"/><rect x="1438.5" y="423.7" width="2" height="18.6"/><rect x="1446.5" y="408.6" width="2" height="21.1"/><rect x="1462.5" y="432.4" width="2" height="8.7"/><rect x="1466.5" y="426.8" width="2" height="4.6"/><rect x="1474.5" y="375.0" width="2" height="51.2"/><rect x="1486.5" y="350.9" width="2" height="40.2"/><rect x="1494.5" y="353.7" width="2" height="4.2"/><rect x="1498.5" y="335.9" width="2" height="16.8"/><rect x="1502.5" y="298.0" width="2" height="36.9"/></g>
</g>
<text x="136.5" y="169.2" style="font-family:'DejaVu Sans Condensed','DejaVu Sans','Liberation Sans',sans-serif;font-size:23px" textLength="219" lengthAdjust="spacingAndGlyphs" fill="#000" stroke="#000" stroke-width="1.1">Copper Daily Chart</text>
<text x="659.3" y="473.8" style="font-family:'DejaVu Sans Condensed','DejaVu Sans','Liberation Sans',sans-serif;font-size:17px" textLength="103" lengthAdjust="spacingAndGlyphs" fill="#0000ff" stroke="#0000ff" stroke-width="0.85">200-day SMA</text>
<text x="1342.4" y="285.8" style="font-family:'DejaVu Sans Condensed','DejaVu Sans','Liberation Sans',sans-serif;font-size:17px" textLength="89.8" lengthAdjust="spacingAndGlyphs" fill="#ff0000" stroke="#ff0000" stroke-width="0.35">21-day EMA</text>
<g transform="rotate(-5.3 1150 555)" style="font-family:'DejaVu Sans Condensed','DejaVu Sans','Liberation Sans',sans-serif;font-size:18.5px" fill="#1e88e5" stroke="#1e88e5" stroke-width="0.65"><text x="1067" y="553.5" textLength="165" lengthAdjust="spacingAndGlyphs">Central bull trend</text><text x="1088" y="573.5" textLength="146" lengthAdjust="spacingAndGlyphs">since July 2022</text></g>
<g><path d="M14.1 641.6H56.5L48.3 664.8H21V653.5H14.1Z" fill="#fff"/><path d="M16.2 643.9H30.7V662.6H23.2V650.7H16.2Z" fill="#141414"/><circle cx="37.3" cy="647.3" r="3.5" fill="#141414"/><path d="M42.7 643.9H53.3L46.1 662.6H37.3Z" fill="#141414"/></g>
<line x1="1722.5" y1="2" x2="1722.5" y2="714" stroke="#6a6a6a" stroke-width="1"/>
<line x1="2" y1="680.5" x2="1789" y2="680.5" stroke="#6a6a6a" stroke-width="1"/>
<text x="1778" y="105.8" text-anchor="end" style="font-family:'DejaVu Sans Condensed','DejaVu Sans',sans-serif;font-size:14.5px" fill="#555" textLength="44.3" lengthAdjust="spacingAndGlyphs">58,000</text>
<text x="1778" y="220.9" text-anchor="end" style="font-family:'DejaVu Sans Condensed','DejaVu Sans',sans-serif;font-size:14.5px" fill="#555" textLength="44.3" lengthAdjust="spacingAndGlyphs">54,000</text>
<text x="1778" y="278.8" text-anchor="end" style="font-family:'DejaVu Sans Condensed','DejaVu Sans',sans-serif;font-size:14.5px" fill="#555" textLength="44.3" lengthAdjust="spacingAndGlyphs">52,000</text>
<text x="1778" y="394.0" text-anchor="end" style="font-family:'DejaVu Sans Condensed','DejaVu Sans',sans-serif;font-size:14.5px" fill="#555" textLength="44.3" lengthAdjust="spacingAndGlyphs">48,000</text>
<text x="1778" y="451.5" text-anchor="end" style="font-family:'DejaVu Sans Condensed','DejaVu Sans',sans-serif;font-size:14.5px" fill="#555" textLength="44.3" lengthAdjust="spacingAndGlyphs">46,000</text>
<text x="1778" y="508.9" text-anchor="end" style="font-family:'DejaVu Sans Condensed','DejaVu Sans',sans-serif;font-size:14.5px" fill="#555" textLength="44.3" lengthAdjust="spacingAndGlyphs">44,000</text>
<text x="1778" y="566.6" text-anchor="end" style="font-family:'DejaVu Sans Condensed','DejaVu Sans',sans-serif;font-size:14.5px" fill="#555" textLength="44.3" lengthAdjust="spacingAndGlyphs">42,000</text>
<text x="1778" y="623.9" text-anchor="end" style="font-family:'DejaVu Sans Condensed','DejaVu Sans',sans-serif;font-size:14.5px" fill="#555" textLength="44.3" lengthAdjust="spacingAndGlyphs">40,000</text>
<clipPath id="ax"><rect x="1723" y="2" width="66" height="678"/></clipPath>
<text x="1778" y="681.9" text-anchor="end" style="font-family:'DejaVu Sans Condensed','DejaVu Sans',sans-serif;font-size:14.5px" fill="#555" clip-path="url(#ax)" textLength="44.3" lengthAdjust="spacingAndGlyphs">38,000</text>
<path d="M1723 14H1782.5a2.5 2.5 0 0 1 2.5 2.5V32.5a2.5 2.5 0 0 1 -2.5 2.5H1723Z" fill="#089981"/>
<text x="1778.8" y="28.9" text-anchor="end" style="font-family:'DejaVu Sans Condensed','DejaVu Sans',sans-serif;font-size:15px" fill="#fff" stroke="#fff" stroke-width="0.25" textLength="44.5" lengthAdjust="spacingAndGlyphs">60,000</text>
<path d="M1723 36H1782.5a2.5 2.5 0 0 1 2.5 2.5V54.0a2.5 2.5 0 0 1 -2.5 2.5H1723Z" fill="#000000"/>
<text x="1778.8" y="50.7" text-anchor="end" style="font-family:'DejaVu Sans Condensed','DejaVu Sans',sans-serif;font-size:15px" fill="#fff" stroke="#fff" stroke-width="0.25" textLength="44.5" lengthAdjust="spacingAndGlyphs">59,956</text>
<path d="M1723 150H1782.5a2.5 2.5 0 0 1 2.5 2.5V168.3a2.5 2.5 0 0 1 -2.5 2.5H1723Z" fill="#f23645"/>
<text x="1778.8" y="164.8" text-anchor="end" style="font-family:'DejaVu Sans Condensed','DejaVu Sans',sans-serif;font-size:15px" fill="#fff" stroke="#fff" stroke-width="0.25" textLength="44.5" lengthAdjust="spacingAndGlyphs">55,983</text>
<path d="M1723 183H1782.5a2.5 2.5 0 0 1 2.5 2.5V201.5a2.5 2.5 0 0 1 -2.5 2.5H1723Z" fill="#f23645"/>
<text x="1778.8" y="197.9" text-anchor="end" style="font-family:'DejaVu Sans Condensed','DejaVu Sans',sans-serif;font-size:15px" fill="#fff" stroke="#fff" stroke-width="0.25" textLength="44.5" lengthAdjust="spacingAndGlyphs">54,817</text>
<path d="M1723 322H1782.5a2.5 2.5 0 0 1 2.5 2.5V340.0a2.5 2.5 0 0 1 -2.5 2.5H1723Z" fill="#2962ff"/>
<text x="1778.8" y="336.7" text-anchor="end" style="font-family:'DejaVu Sans Condensed','DejaVu Sans',sans-serif;font-size:15px" fill="#fff" stroke="#fff" stroke-width="0.25" textLength="44.5" lengthAdjust="spacingAndGlyphs">50,000</text>
<path d="M1723 342.5H1782.5a2.5 2.5 0 0 1 2.5 2.5V361.0a2.5 2.5 0 0 1 -2.5 2.5H1723Z" fill="#2962ff"/>
<text x="1778.8" y="357.4" text-anchor="end" style="font-family:'DejaVu Sans Condensed','DejaVu Sans',sans-serif;font-size:15px" fill="#fff" stroke="#fff" stroke-width="0.25" textLength="44.5" lengthAdjust="spacingAndGlyphs">49,381</text>
<path d="M1723 501.2H1782.5a2.5 2.5 0 0 1 2.5 2.5V519.2a2.5 2.5 0 0 1 -2.5 2.5H1723Z" fill="#000000"/>
<text x="1778.8" y="515.9" text-anchor="end" style="font-family:'DejaVu Sans Condensed','DejaVu Sans',sans-serif;font-size:15px" fill="#fff" stroke="#fff" stroke-width="0.25" textLength="44.5" lengthAdjust="spacingAndGlyphs">43,801</text>
<text x="28" y="702.8" text-anchor="middle" style="font-family:'DejaVu Sans Condensed','DejaVu Sans',sans-serif;font-size:14.5px;font-weight:normal" fill="#555">May</text>
<text x="120" y="702.8" text-anchor="middle" style="font-family:'DejaVu Sans Condensed','DejaVu Sans',sans-serif;font-size:14.5px;font-weight:normal" fill="#555">Jun</text>
<text x="200" y="702.8" text-anchor="middle" style="font-family:'DejaVu Sans Condensed','DejaVu Sans',sans-serif;font-size:14.5px;font-weight:normal" fill="#555">Jul</text>
<text x="291" y="702.8" text-anchor="middle" style="font-family:'DejaVu Sans Condensed','DejaVu Sans',sans-serif;font-size:14.5px;font-weight:normal" fill="#555">Aug</text>
<text x="379" y="702.8" text-anchor="middle" style="font-family:'DejaVu Sans Condensed','DejaVu Sans',sans-serif;font-size:14.5px;font-weight:normal" fill="#555">Sep</text>
<text x="463" y="702.8" text-anchor="middle" style="font-family:'DejaVu Sans Condensed','DejaVu Sans',sans-serif;font-size:14.5px;font-weight:normal" fill="#555">Oct</text>
<text x="555" y="702.8" text-anchor="middle" style="font-family:'DejaVu Sans Condensed','DejaVu Sans',sans-serif;font-size:14.5px;font-weight:normal" fill="#555">Nov</text>
<text x="640" y="702.8" text-anchor="middle" style="font-family:'DejaVu Sans Condensed','DejaVu Sans',sans-serif;font-size:14.5px;font-weight:normal" fill="#555">Dec</text>
<text x="723.6" y="702.8" text-anchor="middle" style="font-family:'DejaVu Sans Condensed','DejaVu Sans',sans-serif;font-size:14.5px;font-weight:bold" fill="#555">2025</text>
<text x="811" y="702.8" text-anchor="middle" style="font-family:'DejaVu Sans Condensed','DejaVu Sans',sans-serif;font-size:14.5px;font-weight:normal" fill="#555">Feb</text>
<text x="891" y="702.8" text-anchor="middle" style="font-family:'DejaVu Sans Condensed','DejaVu Sans',sans-serif;font-size:14.5px;font-weight:normal" fill="#555">Mar</text>
<text x="975.6" y="702.8" text-anchor="middle" style="font-family:'DejaVu Sans Condensed','DejaVu Sans',sans-serif;font-size:14.5px;font-weight:normal" fill="#555">Apr</text>
<text x="1059" y="702.8" text-anchor="middle" style="font-family:'DejaVu Sans Condensed','DejaVu Sans',sans-serif;font-size:14.5px;font-weight:normal" fill="#555">May</text>
<text x="1147" y="702.8" text-anchor="middle" style="font-family:'DejaVu Sans Condensed','DejaVu Sans',sans-serif;font-size:14.5px;font-weight:normal" fill="#555">Jun</text>
<text x="1231" y="702.8" text-anchor="middle" style="font-family:'DejaVu Sans Condensed','DejaVu Sans',sans-serif;font-size:14.5px;font-weight:normal" fill="#555">Jul</text>
<text x="1323" y="702.8" text-anchor="middle" style="font-family:'DejaVu Sans Condensed','DejaVu Sans',sans-serif;font-size:14.5px;font-weight:normal" fill="#555">Aug</text>
<text x="1406.8" y="702.8" text-anchor="middle" style="font-family:'DejaVu Sans Condensed','DejaVu Sans',sans-serif;font-size:14.5px;font-weight:normal" fill="#555">Sep</text>
<text x="1494.6" y="702.8" text-anchor="middle" style="font-family:'DejaVu Sans Condensed','DejaVu Sans',sans-serif;font-size:14.5px;font-weight:normal" fill="#555">Oct</text>
<text x="1611" y="702.8" text-anchor="middle" style="font-family:'DejaVu Sans Condensed','DejaVu Sans',sans-serif;font-size:14.5px;font-weight:normal" fill="#555">Nov</text>
<g fill="none" stroke="#141414" stroke-width="1.3"><path d="M1747.6 698.2L1752 690.8H1761.2L1765.6 698.2L1761.2 705.6H1752Z"/><circle cx="1756.6" cy="698.2" r="2.7"/></g>
</svg></body></html>
